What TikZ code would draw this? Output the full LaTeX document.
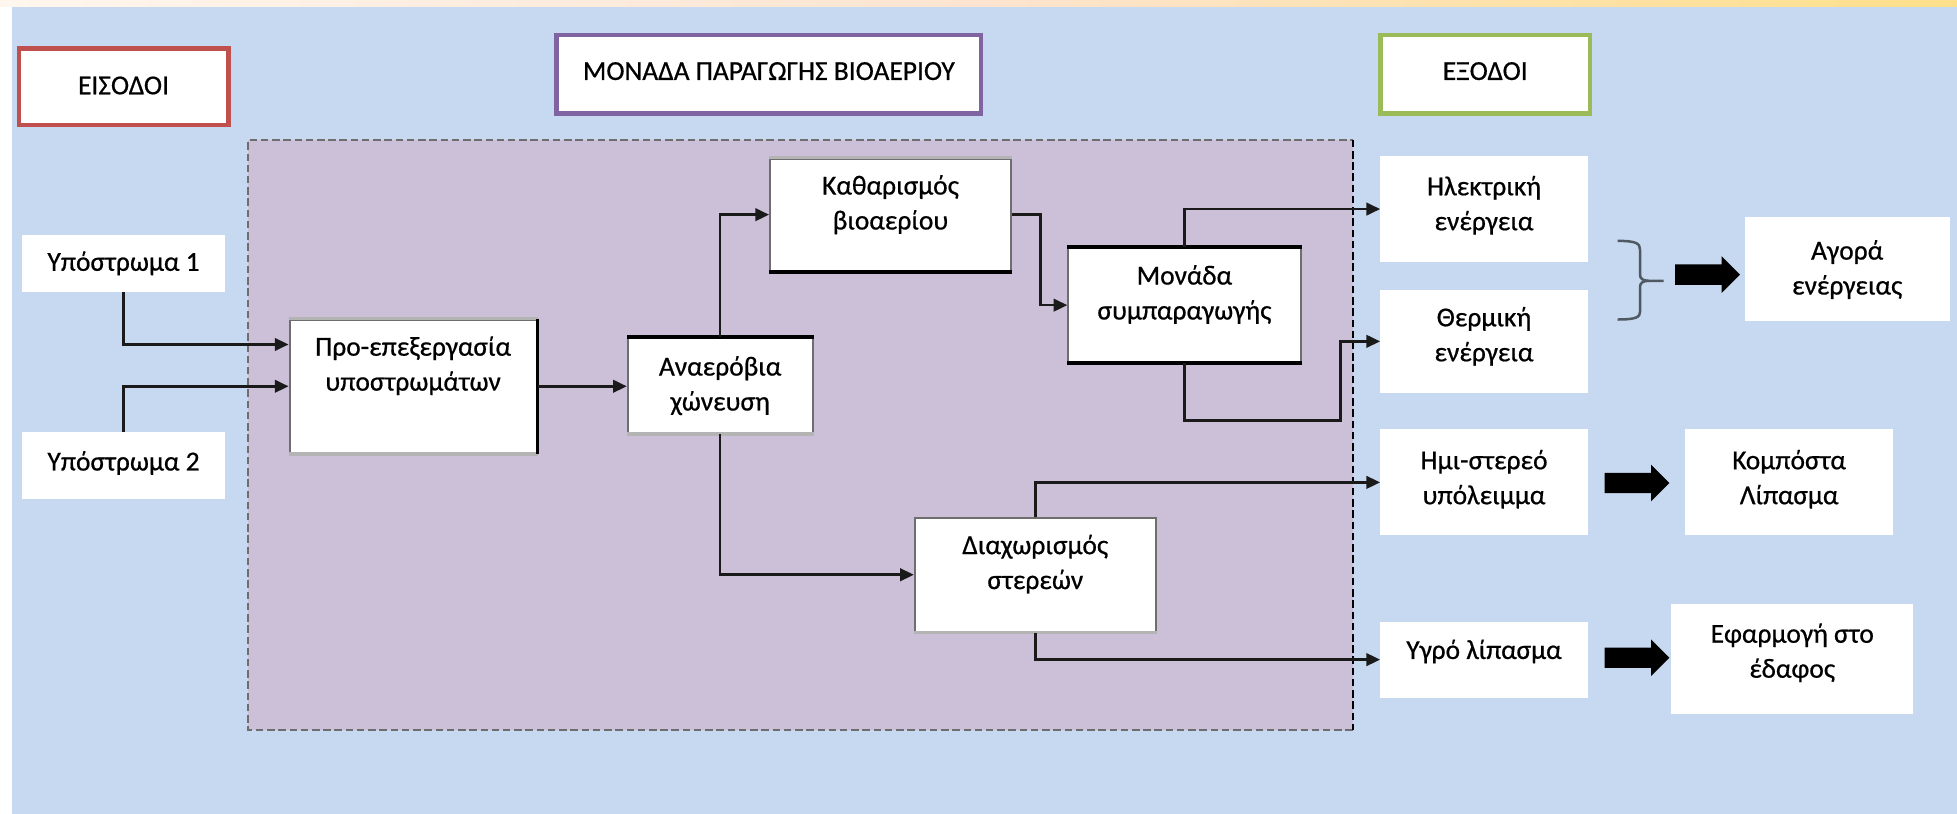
\documentclass[tikz,border=0pt]{standalone}
\usepackage{fontspec}
\setmainfont{Carlito}[FakeBold=0.6]
\usetikzlibrary{arrows.meta,shapes.arrows,calc}
\definecolor{bgblue}{HTML}{C6D9F0}
\definecolor{regpurple}{HTML}{CCC0D9}
\definecolor{redb}{HTML}{C0504D}
\definecolor{purpb}{HTML}{8064A2}
\definecolor{greenb}{HTML}{9BBB59}
\definecolor{lineg}{HTML}{1A1A1A}
\definecolor{boxg}{HTML}{6E6E6E}
\definecolor{braceg}{HTML}{505862}
\definecolor{lightg}{HTML}{B4B4B4}
\definecolor{stripl}{HTML}{FFF6EE}
\definecolor{stripm}{HTML}{FCE4D0}
\definecolor{stripr}{HTML}{FFE08A}
\begin{document}
\begin{tikzpicture}[x=1pt,y=1pt,
  font=\fontsize{22}{28}\selectfont,
  hdr/.style={draw, fill=white, line width=3.5pt, inner sep=0},
  box/.style={draw=boxg, fill=white, line width=1.6pt, inner sep=0},
  plain/.style={fill=white, inner sep=0},
  txt/.style={align=center, inner sep=0},
  conn/.style={draw=lineg, line width=2pt, -{Triangle[length=11pt,width=10pt]}},
  bigarrow/.style={single arrow, fill=black, inner sep=8pt, minimum height=52pt, single arrow head extend=6.5pt},
  edgeblack/.style={draw=black, line width=3pt},
  edgelight/.style={draw=lightg, line width=3pt}
]
% background
\useasboundingbox (0,0) rectangle (1568,-652);
\fill[white] (0,0) rectangle (1568,-652);
\fill[bgblue] (10,-5) rectangle (1568,-652);
\shade[left color=stripl, right color=stripr, middle color=stripm] (0,0) rectangle (1568,-5);

% region
\fill[regpurple] (199,-112) rectangle (1084,-585);
\draw[boxg, line width=1.8pt, dash pattern=on 6pt off 3pt] (1084,-585) -- (199,-585) -- (199,-112) -- (1084,-112);
\draw[black, line width=1.8pt, dash pattern=on 6pt off 3pt] (1084,-112) -- (1084,-585);

% header boxes
\node[hdr, draw=redb, minimum width=168pt, minimum height=61pt] (eis) at (99,-69.5) {};
\node[txt] (eist) at (99,-68.5) {ΕΙΣΟΔΟΙ};
\node[hdr, draw=purpb, minimum width=340pt, minimum height=63pt] (mon) at (616,-59.5) {};
\node[txt] (mont) at (616,-57) {ΜΟΝΑΔΑ ΠΑΡΑΓΩΓΗΣ ΒΙΟΑΕΡΙΟΥ};
\node[hdr, draw=greenb, minimum width=168pt, minimum height=63pt] (exo) at (1190,-59.5) {};
\node[txt] (exot) at (1190,-57) {ΕΞΟΔΟΙ};

% inputs
\node[plain, minimum width=162pt, minimum height=46pt] (ypo1) at (99,-211) {};
\node[txt] (ypo1t) at (99,-211) {Υπόστρωμα 1};
\node[plain, minimum width=162pt, minimum height=54pt] (ypo2) at (99,-373) {};
\node[txt] (ypo2t) at (99,-371) {Υπόστρωμα 2};

% process boxes
\node[box, minimum width=198pt, minimum height=107pt] (pro) at (331,-309.5) {};
\draw[edgelight] (pro.north west) -- (pro.north east);
\draw[edgelight] (pro.south west) -- (pro.south east);
\draw[black, line width=2pt] (pro.north east) -- (pro.south east);
\node[txt] (prot) at (331,-293) {Προ-επεξεργασία\\υποστρωμάτων};

\node[box, minimum width=148pt, minimum height=76pt] (ana) at (577,-309) {};
\draw[edgeblack] (ana.north west) -- (ana.north east);
\draw[edgelight] (ana.south west) -- (ana.south east);
\node[txt] (anat) at (577,-309) {Αναερόβια\\χώνευση};

\node[box, minimum width=193pt, minimum height=90pt] (kath) at (713.5,-172) {};
\draw[edgelight] (kath.north west) -- (kath.north east);
\draw[edgeblack] (kath.south west) -- (kath.south east);
\node[txt] (katht) at (713.5,-164) {Καθαρισμός\\βιοαερίου};

\node[box, minimum width=186pt, minimum height=91pt] (mon2) at (949,-244.5) {};
\draw[edgeblack] (mon2.north west) -- (mon2.north east);
\draw[edgeblack] (mon2.south west) -- (mon2.south east);
\node[txt] (mon2t) at (949,-236) {Μονάδα\\συμπαραγωγής};

\node[box, minimum width=193pt, minimum height=91pt] (diax) at (829.5,-460.5) {};
\draw[edgelight] (diax.south west) -- (diax.south east);
\node[txt] (diaxt) at (829.5,-452) {Διαχωρισμός\\στερεών};

% outputs
\node[plain, minimum width=166pt, minimum height=85pt] (hle) at (1189,-167.5) {};
\node[txt] (hlet) at (1189,-164.5) {Ηλεκτρική\\ενέργεια};
\node[plain, minimum width=166pt, minimum height=83pt] (the) at (1189,-273.5) {};
\node[txt] (thet) at (1189,-269.5) {Θερμική\\ενέργεια};
\node[plain, minimum width=164pt, minimum height=83pt] (ago) at (1480,-215.5) {};
\node[txt] (agot) at (1480,-216) {Αγορά\\ενέργειας};
\node[plain, minimum width=166pt, minimum height=85pt] (imi) at (1189,-386.5) {};
\node[txt] (imit) at (1189,-384) {Ημι-στερεό\\υπόλειμμα};
\node[plain, minimum width=167pt, minimum height=85pt] (kom) at (1433.5,-386.5) {};
\node[txt] (komt) at (1433.5,-384) {Κομπόστα\\Λίπασμα};
\node[plain, minimum width=166pt, minimum height=61pt] (ygr) at (1189,-528.5) {};
\node[txt] (ygrt) at (1189,-522) {Υγρό λίπασμα};
\node[plain, minimum width=194pt, minimum height=88pt] (efa) at (1436,-528) {};
\node[txt] (efat) at (1436,-523) {Εφαρμογή στο\\έδαφος};

% connectors
\coordinate (k1) at (1074,-337);
\draw[conn] (ypo1.south) |- ([yshift=33.5pt]pro.west);
\draw[conn] (ypo2.north) |- (pro.west);
\draw[conn] (pro.east) -- (pro.east -| ana.west);
\draw[conn] (ana.north) |- (kath.west);
\draw[conn] (kath.east) -- ++(23pt,0) |- (mon2.west);
\draw[conn] (mon2.north) |- (hle.west);
\draw[conn] (mon2.south) |- (k1) |- (the.west);
\draw[conn] (ana.south) |- (diax.west);
\draw[conn] (diax.north) |- (imi.west);
\draw[conn] (diax.south) |- (ygr.west);

% brace
\draw[braceg, line width=2pt, line join=round]
  (1296,-193) .. controls (1311,-193) and (1314,-195) .. (1314,-200)
  -- (1314,-220) .. controls (1314,-223) and (1316,-225) .. (1321,-225)
  -- (1333,-225);
\draw[braceg, line width=2pt, line join=round]
  (1321,-225) .. controls (1316,-225) and (1314,-227) .. (1314,-230)
  -- (1314,-250) .. controls (1314,-254) and (1311,-256) .. (1296,-256);

% block arrows
\node[bigarrow] (a1) at (1364,-220) {};
\node[bigarrow] (a2) at (1307.5,-387) {};
\node[bigarrow] (a3) at (1307.5,-527) {};
\end{tikzpicture}
\end{document}
